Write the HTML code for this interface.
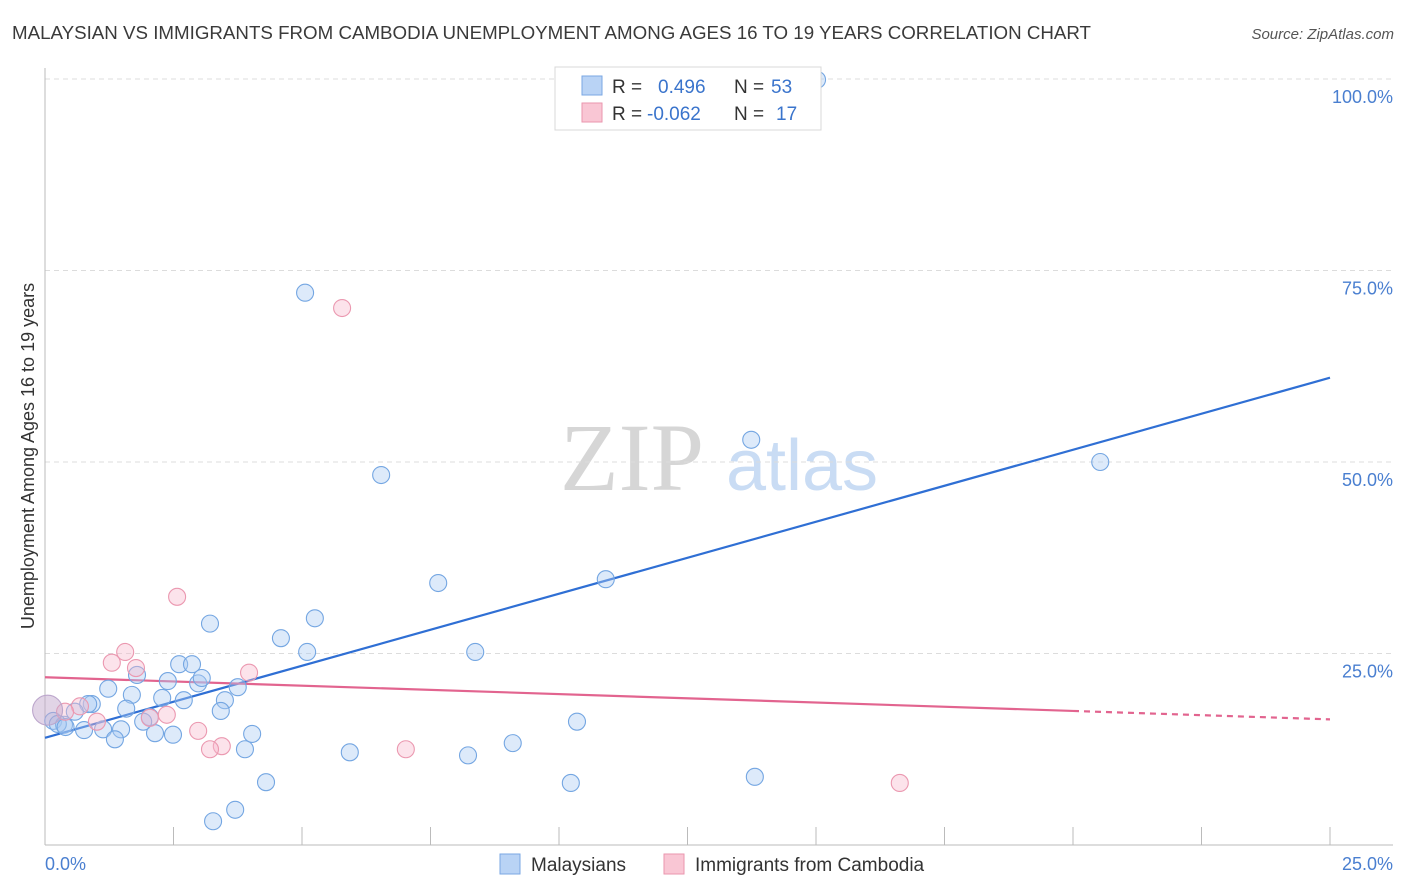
<!DOCTYPE html>
<html><head><meta charset="utf-8">
<style>
body{margin:0;background:#fff;font-family:"Liberation Sans",sans-serif;}
svg{display:block}
</style></head>
<body>
<svg id="chart" width="1406" height="892" viewBox="0 0 1406 892" xmlns="http://www.w3.org/2000/svg">
<text x="12" y="39" font-size="18" fill="#3a3a3a" textLength="1079" lengthAdjust="spacingAndGlyphs" font-family="Liberation Sans, sans-serif">MALAYSIAN VS IMMIGRANTS FROM CAMBODIA UNEMPLOYMENT AMONG AGES 16 TO 19 YEARS CORRELATION CHART</text>
<text x="1394" y="39" font-size="15" fill="#555" font-style="italic" text-anchor="end">Source: ZipAtlas.com</text>
<g>
<text x="632" y="490" font-size="96" fill="#d6d6d6" font-family="Liberation Serif, serif" text-anchor="middle">ZIP</text>
<text x="802" y="490" font-size="72" fill="#c9dcf4" text-anchor="middle">atlas</text>
</g>
<g id="grid"></g>
<g id="axes"></g>
<g id="lines"></g>
<g id="points"></g>
<text transform="translate(34,456) rotate(-90)" font-size="18" fill="#333" text-anchor="middle">Unemployment Among Ages 16 to 19 years</text>
<text x="45" y="870" font-size="18" fill="#4a7fd0">0.0%</text>
<text x="1393" y="870" font-size="18" fill="#4a7fd0" text-anchor="end">25.0%</text>
<g>
<rect x="555" y="67" width="266" height="63" fill="#fff" stroke="#d8d8d8"/>
<rect x="582" y="76" width="20" height="19" fill="#b9d3f5" stroke="#7aa7e3"/>
<rect x="582" y="103" width="20" height="19" fill="#f9c6d4" stroke="#ea96ae"/>
<text x="612" y="93" font-size="19" fill="#333">R =</text>
<text x="658" y="93" font-size="19" fill="#3a74cc">0.496</text>
<text x="734" y="93" font-size="19" fill="#333">N =</text>
<text x="771" y="93" font-size="19" fill="#3a74cc">53</text>
<text x="612" y="120" font-size="19" fill="#333">R =</text>
<text x="647" y="120" font-size="19" fill="#3a74cc">-0.062</text>
<text x="734" y="120" font-size="19" fill="#333">N =</text>
<text x="776" y="120" font-size="19" fill="#3a74cc">17</text>
</g>
<g>
<rect x="500" y="854" width="20" height="20" fill="#b9d3f5" stroke="#7aa7e3"/>
<text x="531" y="871" font-size="19" fill="#333">Malaysians</text>
<rect x="664" y="854" width="20" height="20" fill="#f9c6d4" stroke="#ea96ae"/>
<text x="695" y="871" font-size="19" fill="#333">Immigrants from Cambodia</text>
</g>
</svg>
<script>
const blueX=[15.02,5.06,6.54,13.74,20.53,7.65,10.91,5.25,3.21,4.59,5.10,8.37,2.61,2.86,1.79,2.39,2.98,3.05,3.75,1.23,1.69,2.28,2.70,3.50,0.91,0.84,1.58,3.42,0.58,2.04,0.16,1.91,10.35,0.37,0.25,1.13,0.76,1.48,2.14,2.49,4.03,1.36,9.10,5.93,3.89,8.23,13.81,10.23,4.30,3.70,3.27,0.4];
const blueY=[99.9,72.1,48.3,52.9,50.0,34.2,34.7,29.6,28.9,27.0,25.2,25.2,23.6,23.6,22.2,21.4,21.1,21.8,20.6,20.4,19.6,19.2,18.9,18.9,18.4,18.4,17.8,17.5,17.4,16.7,16.2,16.1,16.1,15.7,15.8,15.1,15.0,15.1,14.6,14.4,14.5,13.8,13.3,12.1,12.5,11.7,8.9,8.1,8.2,4.6,3.1,15.4];
const pinkX=[5.78,2.57,1.56,1.30,1.77,3.97,0.68,0.39,1.01,2.37,2.98,2.04,3.44,3.21,7.02,16.63];
const pinkY=[70.1,32.4,25.2,23.8,23.1,22.5,18.1,17.4,16.1,17.0,14.9,16.6,12.9,12.5,12.5,8.1];
const bigX=[0.05], bigY=[17.6];
const yTicks=[25,50,75,100];
const yTickLabels=["25.0%","50.0%","75.0%","100.0%"];
const xTicks=[0,2.5,5,7.5,10,12.5,15,17.5,20,22.5,25];
const blueLine=[[0,14.0],[25,61.0]];
const pinkLineSolid=[[0,21.9],[20,17.5]];
const pinkLineDash=[[20,17.5],[25,16.4]];

const NS="http://www.w3.org/2000/svg";
const X=v=>45+v/25*1285;
const Y=v=>845-v/100*766;
function mk(tag,attrs,parent){const e=document.createElementNS(NS,tag);for(const k in attrs)e.setAttribute(k,attrs[k]);document.getElementById(parent).appendChild(e);return e;}

yTicks.forEach((t,i)=>{
  const g=mk('line',{x1:45,x2:1393,y1:Y(t),y2:Y(t),stroke:'#dcdcdc','stroke-dasharray':'5,4'},'grid');
  
  
  const l=mk('text',{x:1393,y:Y(t)+24,'font-size':18,fill:'#4a7fd0','text-anchor':'end'},'grid');
  l.textContent=yTickLabels[i];
  
  
});
const ax=mk('line',{x1:45,x2:45,y1:68,y2:845,stroke:'#bbb'},'axes');


const bx=mk('line',{x1:45,x2:1393,y1:845,y2:845,stroke:'#bbb'},'axes');


xTicks.forEach(t=>{
  const e=mk('line',{x1:X(t),x2:X(t),y1:827,y2:845,stroke:'#bbb'},'axes');
  
  
});
function seg(p,stroke,dash,name){
  const e=mk('line',{x1:X(p[0][0]),y1:Y(p[0][1]),x2:X(p[1][0]),y2:Y(p[1][1]),stroke:stroke,'stroke-width':2.2},'lines');
  if(dash)e.setAttribute('stroke-dasharray',dash);
  
  
}
seg(blueLine,'#2f6fd4',null,'malaysians-trend-line');
seg(pinkLineSolid,'#e2648f',null,'cambodia-trend-line');
seg(pinkLineDash,'#e2648f','6,5','cambodia-trend-extension');
function pts(xs,ys,r,fill,stroke,name){
  xs.forEach((x,i)=>{
    const c=mk('circle',{cx:X(x),cy:Y(ys[i]),r:r,fill:fill,stroke:stroke,'stroke-width':1.1},'points');
    
    
  });
}
pts(blueX,blueY,8.5,'rgba(170,202,242,0.4)','#74a6e2','malaysians-point');
pts(pinkX,pinkY,8.5,'rgba(248,185,204,0.4)','#eb98b0','cambodia-point');
pts(bigX,bigY,15,'rgba(195,170,205,0.5)','#bca6cc','overlap-point');
</script>
</body></html>
